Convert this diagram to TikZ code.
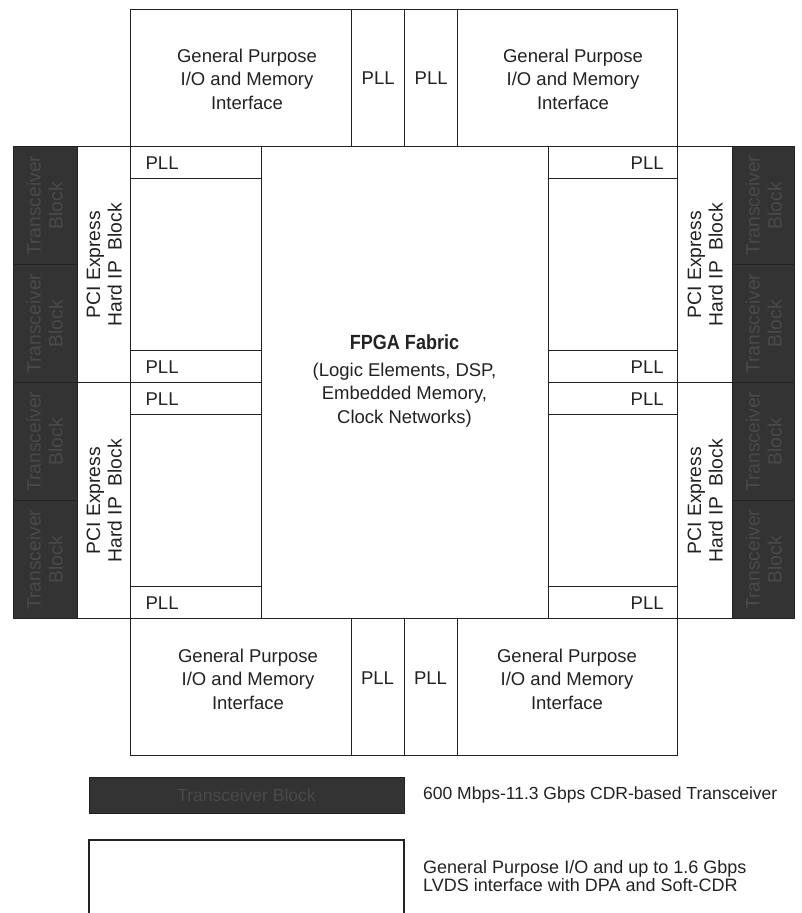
\documentclass[tikz,border=0pt]{standalone}
\usepackage{fontspec}
\setmainfont{Liberation Sans}
\newfontfamily\condfont[FakeStretch=0.88]{Liberation Sans}
\definecolor{dark}{HTML}{333333}
\definecolor{darktext}{HTML}{4A4A4A}
\definecolor{ink}{HTML}{222222}
\tikzset{
  base/.style={draw=ink, line width=1.3pt, inner sep=0pt, anchor=north west, text=ink},
  sz/.style 2 args={minimum width=#1pt, minimum height=#2pt},
  whitebox/.style={base, fill=white, align=center, font=\fontsize{18.5}{23.5}\selectfont},
  darkbox/.style={base, fill=dark},
  pllleft/.style={base, fill=white, align=left, text width=101pt, inner xsep=15pt, font=\fontsize{18.5}{22}\selectfont},
  pllright/.style={base, fill=white, align=right, text width=101pt, inner xsep=14pt, font=\fontsize{18.5}{22}\selectfont},
  gptext/.style={align=center, text=ink, inner sep=0pt, font=\fontsize{18.5}{23.5}\selectfont},
  vtext/.style={align=center, text=ink, inner sep=0pt, rotate=90, font=\fontsize{19.3}{21.5}\selectfont},
  trtext/.style={align=center, text=darktext, inner sep=0pt, rotate=90, font=\fontsize{19.3}{22}\selectfont},
  legtext/.style={align=left, text=ink, inner sep=0pt, anchor=west, font=\fontsize{17.5}{18}\selectfont}
}
\begin{document}
\begin{tikzpicture}[x=1pt, y=-1pt]
\useasboundingbox (0,0) rectangle (801,913);
% top row
\node[whitebox, sz={221}{137}] (gp1) at (130,9) {};
\node[whitebox, sz={53}{137}] (pllt1) at (351,9) {PLL};
\node[whitebox, sz={53}{137}] (pllt2) at (404,9) {PLL};
\node[whitebox, sz={220}{137}] (gp2) at (457,9) {};
\node[gptext] (gp1t) at (247,79) {General Purpose\\I/O and Memory\\Interface};
\node[gptext] (gp2t) at (573,79) {General Purpose\\I/O and Memory\\Interface};
% bottom row
\node[whitebox, sz={221}{137}] (gp3) at (130,618) {};
\node[whitebox, sz={53}{137}] (pllb1) at (351,618) {};
\node[whitebox, sz={53}{137}] (pllb2) at (404,618) {};
\node[whitebox, sz={220}{137}] (gp4) at (457,618) {};
\node[gptext] (pllb1t) at (377.5,678) {PLL};
\node[gptext] (pllb2t) at (430.5,678) {PLL};
\node[gptext] (gp3t) at (248,679) {General Purpose\\I/O and Memory\\Interface};
\node[gptext] (gp4t) at (567,679) {General Purpose\\I/O and Memory\\Interface};
% fabric
\node[whitebox, sz={287}{472}] (fab) at (261,146) {};
\node[gptext] (fabt) at (404.5,381) {{\condfont\bfseries\fontsize{20.5}{24}\selectfont FPGA Fabric}\\[3pt](Logic Elements, DSP,\\Embedded Memory,\\Clock Networks)};
% left transceivers
\node[darkbox, sz={64}{118}] (trl1) at (13,146) {};
\node[darkbox, sz={64}{118}] (trl2) at (13,264) {};
\node[darkbox, sz={64}{118}] (trl3) at (13,382) {};
\node[darkbox, sz={64}{118}] (trl4) at (13,500) {};
\foreach \n in {trl1,trl2,trl3,trl4}{\node[trtext] (\n t) at ([xshift=-1pt]\n.center) {Transceiver\\Block};}
% right transceivers
\node[darkbox, sz={62}{118}] (trr1) at (732,146) {};
\node[darkbox, sz={62}{118}] (trr2) at (732,264) {};
\node[darkbox, sz={62}{118}] (trr3) at (732,382) {};
\node[darkbox, sz={62}{118}] (trr4) at (732,500) {};
\foreach \n in {trr1,trr2,trr3,trr4}{\node[trtext] (\n t) at (\n.center) {Transceiver\\Block};}
% PCIe
\node[whitebox, sz={53}{236}] (pcl1) at (77,146) {};
\node[whitebox, sz={53}{236}] (pcl2) at (77,382) {};
\node[whitebox, sz={55}{236}] (pcr1) at (677,146) {};
\node[whitebox, sz={55}{236}] (pcr2) at (677,382) {};
\foreach \n in {pcl1,pcl2,pcr1,pcr2}{\node[vtext] (\n t) at (\n.center) {PCI Express\\Hard IP~~Block};}
% left strips
\node[pllleft, sz={131}{32}] (lp1) at (130,146) {PLL};
\node[whitebox, sz={131}{172}] (le1) at (130,178) {};
\node[pllleft, sz={131}{32}] (lp2) at (130,350) {PLL};
\node[pllleft, sz={131}{32}] (lp3) at (130,382) {PLL};
\node[whitebox, sz={131}{172}] (le2) at (130,414) {};
\node[pllleft, sz={131}{32}] (lp4) at (130,586) {PLL};
% right strips
\node[pllright, sz={129}{32}] (rp1) at (548,146) {PLL};
\node[whitebox, sz={129}{172}] (re1) at (548,178) {};
\node[pllright, sz={129}{32}] (rp2) at (548,350) {PLL};
\node[pllright, sz={129}{32}] (rp3) at (548,382) {PLL};
\node[whitebox, sz={129}{172}] (re2) at (548,414) {};
\node[pllright, sz={129}{32}] (rp4) at (548,586) {PLL};
% legend
\node[darkbox, sz={315}{36}] (legdark) at (89,777) {};
\node[text=darktext, inner sep=0pt, font=\fontsize{17.5}{18}\selectfont] (legdarkt) at (246.5,795) {Transceiver Block};
\node[legtext] (leg1) at (423,795) {600 Mbps-11.3 Gbps CDR-based Transceiver};
\draw[draw=ink, line width=1.3pt] (89,913) -- (89,840) -- (404,840) -- (404,913);
\node[legtext, font=\fontsize{18}{18}\selectfont] (leg2) at (423,876) {General Purpose I/O and up to 1.6 Gbps\\LVDS interface with DPA and Soft-CDR};
\end{tikzpicture}
\end{document}
